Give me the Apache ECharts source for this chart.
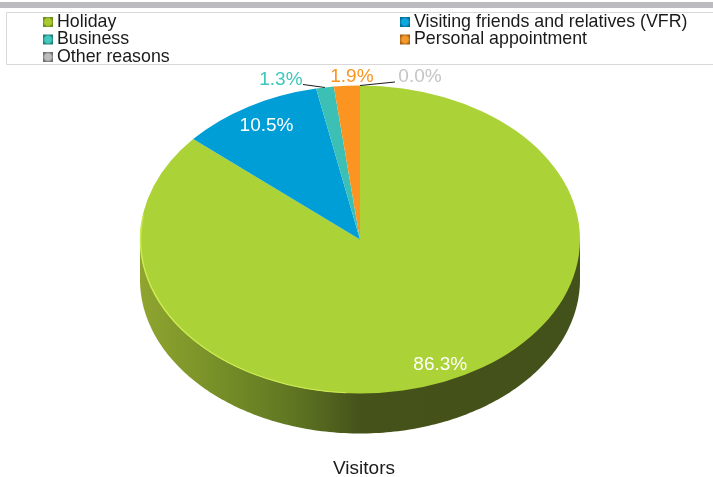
<!DOCTYPE html>
<html><head><meta charset="utf-8">
<style>html,body{margin:0;padding:0;background:#fff}#c{width:713px;height:477px}</style>
<script src="https://cdn.jsdelivr.net/npm/echarts@6/dist/echarts.min.js"></script>
</head><body><div id="c"></div>
<script>
const categories = ['Holiday','Visiting friends and relatives (VFR)','Business','Personal appointment','Other reasons'];
const shares = [86.3,10.5,1.3,1.9,0.0];
const sliceColors = ['#abd337','#009ed6','#3cc0b6','#fb9420','#b9b9b9'];
const labelColors = ['#ffffff','#ffffff','#3cc8bc','#fb9420','#c4c4c4'];
const legendLeft = ['Holiday','Business','Other reasons'];
const legendRight = ['Visiting friends and relatives (VFR)','Personal appointment'];
const chartTitle = 'Visitors';

const CX=360, CY=239.5, RX=220, RY=154, DEPTH=40;
const SQUASH=RY/RX;
const total=shares.reduce((a,b)=>a+b,0);
const starts=[]; { let c=0; shares.forEach(v=>{starts.push(c); c+=v;}); }
const ang=p=>-Math.PI/2+p/total*Math.PI*2;
const rim=p=>[CX+RX*Math.cos(ang(p)),CY+RY*Math.sin(ang(p))];
const labelPos=i=>{
  const mid=starts[i]+shares[i]/2, a=ang(mid);
  if(i===0) return [CX+0.365*RX,CY+0.81*RY+0.5];
  if(i===1) return [CX+RX*0.83*Math.cos(a)-1,CY+RY*0.83*Math.sin(a)-3.5];
  const r=rim(mid);
  if(i===2) return [r[0]-44,r[1]-7.5];
  if(i===3) return [r[0]+5,r[1]-9.5];
  return [r[0]+60,r[1]-8.5];
};
const leaderEnd=i=>{
  const r=rim(starts[i]+shares[i]/2);
  if(i===2) return [r[0]-22,r[1]-3];
  if(i===4) return [r[0]+35,r[1]-3.5];
  return null;
};
function iconFill(c0,c1){return {type:'radial',x:0.5,y:0.5,r:0.7,colorStops:[{offset:0,color:c0},{offset:0.45,color:c0},{offset:0.75,color:c1},{offset:1,color:c1}]};}
const iconColors=[['#a9cb33','#6f8a1c'],['#0fa8dc','#006f99'],['#45c8bd','#1f7d75'],['#f39a2e','#a85f10'],['#bdbdbd','#6e6e6e']];
function legendData(names){return names.map(n=>{const i=categories.indexOf(n);return {name:n,icon:'rect',itemStyle:{color:iconFill(iconColors[i][0],iconColors[i][1]),borderWidth:0}};});}

function renderSlice(i){return function(params,api){
  const kids=[];
  if(i===0){
    const pts=[];
    for(let k=0;k<=180;k++){const t=k/180*Math.PI;pts.push([CX+RX*Math.cos(t),CY+DEPTH+RY*Math.sin(t)]);}
    pts.push([CX-RX,CY]);pts.push([CX+RX,CY]);
    kids.push({type:'polygon',shape:{points:pts},style:{fill:{type:'linear',x:0,y:0,x2:1,y2:0,colorStops:[
      {offset:0,color:'#8fa52f'},{offset:0.2,color:'#748c27'},{offset:0.35,color:'#5f7522'},{offset:0.5,color:'#45531a'},{offset:1,color:'#43511a'}]}}});
  }
  const v=api.value(0);
  if(v>0){
    kids.push({type:'group',x:CX,y:CY,scaleY:SQUASH,children:[{type:'sector',
      shape:{cx:0,cy:0,r:RX,r0:0,startAngle:ang(starts[i]),endAngle:ang(starts[i]+v),clockwise:true},
      style:{fill:sliceColors[i]}}]});
  }
  if(i===0){
    kids.push({type:'group',x:CX,y:CY,scaleY:SQUASH,children:[{type:'arc',
      shape:{cx:0,cy:0,r:RX-0.5,startAngle:Math.PI*0.52,endAngle:Math.PI*1.05,clockwise:true},
      style:{fill:null,stroke:'#cdea55',lineWidth:1.5}}]});
  }
  const e=leaderEnd(i);
  if(e){const r=rim(starts[i]+shares[i]/2);
    kids.push({type:'line',shape:{x1:r[0],y1:r[1],x2:e[0],y2:e[1]},style:{stroke:'#1a1a1a',lineWidth:1}});}
  const p=labelPos(i);
  kids.push({type:'text',x:p[0],y:p[1],z2:10,style:{text:v.toFixed(1)+'%',fill:labelColors[i],align:'center',verticalAlign:'middle',font:'19px "Liberation Sans", Arial, sans-serif'}});
  return {type:'group',children:kids};
};}

const legendBase={orient:'vertical',itemWidth:10,itemHeight:10,itemGap:-0.5,padding:0,selectedMode:false,
  textStyle:{fontFamily:'"Liberation Sans", Arial, sans-serif',fontSize:17.8,color:'#1a1a1a',lineHeight:17,padding:[0,0,0,-1]}};

const chart=echarts.init(document.getElementById('c'));
chart.setOption({
  animation:false,
  backgroundColor:'#fff',
  title:{text:chartTitle,left:364,top:459,textAlign:'center',padding:0,textStyle:{fontFamily:'"Liberation Sans", Arial, sans-serif',fontSize:19,fontWeight:'normal',color:'#1a1a1a'}},
  legend:[
    Object.assign({},legendBase,{left:43,top:13,data:legendData(legendLeft)}),
    Object.assign({},legendBase,{left:400,top:13,data:legendData(legendRight)})
  ],
  graphic:[
    {type:'rect',silent:true,z:-1,shape:{x:0,y:2,width:713,height:6},style:{fill:'#bcbcc0'}},
    {type:'rect',silent:true,z:-1,shape:{x:6.5,y:12.5,width:720,height:52},style:{fill:'#fff',stroke:'#d8d8d8',lineWidth:1}}
  ],
  series:categories.map((n,i)=>({type:'custom',name:n,coordinateSystem:'none',silent:true,clip:false,
    renderItem:renderSlice(i),data:[[shares[i]]],encode:{value:0},itemStyle:{color:sliceColors[i]}}))
});
</script></body></html>
